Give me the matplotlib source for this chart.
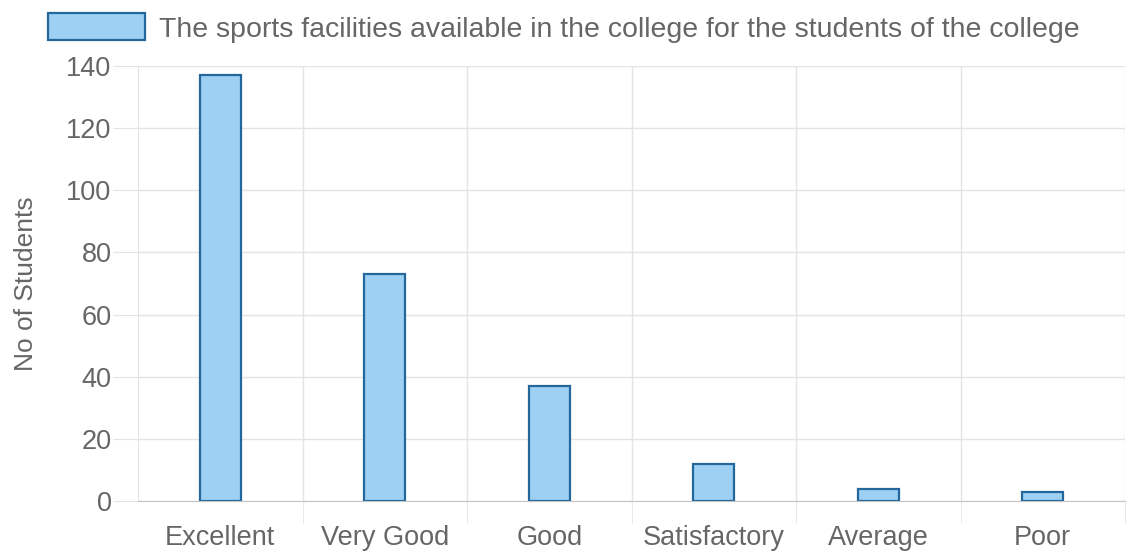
import matplotlib.pyplot as plt
from matplotlib.patches import Patch
import numpy as np

categories = ["Excellent", "Very Good", "Good", "Satisfactory", "Average", "Poor"]
students = [137, 73, 37, 12, 4, 3]
y_ticks = [0, 20, 40, 60, 80, 100, 120, 140]
series_name = "The sports facilities available in the college for the students of the college"

fill = "#9dd0f3"
edge = "#23679c"
txt = "#666666"
grid = "#e4e4e4"

plt.rcParams["font.family"] = ["Liberation Sans", "DejaVu Sans"]

fig = plt.figure(figsize=(11.31, 5.56), dpi=100)
ax = fig.add_axes([138/1131, 1-501/556, (1125-138)/1131, (501-66)/556])

x = np.arange(len(categories))
ax.bar(x, students, width=0.25, color=fill, edgecolor=edge, linewidth=1.6)

ax.set_xlim(-0.5, len(categories) - 0.5)
ax.set_ylim(0, 140)
ax.set_yticks(y_ticks)
ax.set_xticks(x)
ax.set_xticklabels(categories)
ax.set_xticks(np.arange(len(categories)) + 0.5, minor=True)

ax.grid(axis="y", color=grid, linewidth=1)
ax.grid(axis="x", which="minor", color=grid, linewidth=1)
ax.set_axisbelow(True)

ax.tick_params(axis="y", length=18, color=grid, labelsize=19.5, labelcolor=txt, pad=1)
ax.tick_params(axis="x", which="major", length=0, labelsize=19.5, labelcolor=txt, pad=17)
ax.tick_params(axis="x", which="minor", length=16, color=grid)

for s in ["top", "right"]:
    ax.spines[s].set_visible(False)
ax.spines["left"].set_color(grid)
ax.spines["bottom"].set_color("#c4c4c4")

ax.set_ylabel("No of Students", fontsize=19, color=txt, labelpad=20)

h = Patch(facecolor=fill, edgecolor=edge, linewidth=1.6)
fig.legend([h], [series_name], loc="center left", bbox_to_anchor=(48/1131, 1-28/556),
           frameon=False, fontsize=20.5, labelcolor=txt, handlelength=3.4,
           handleheight=1.06, handletextpad=0.5, borderaxespad=0, borderpad=0)

fig.savefig("out.png", dpi=100)
